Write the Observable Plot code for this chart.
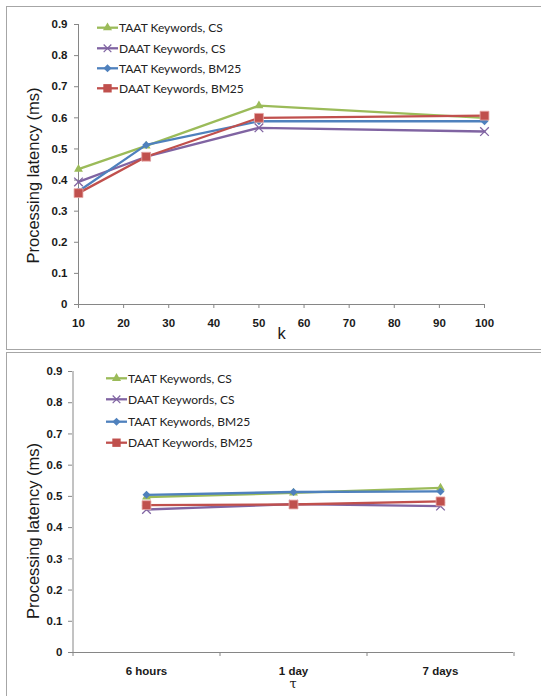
<!DOCTYPE html>
<html><head><meta charset="utf-8">
<script src="https://cdn.jsdelivr.net/npm/d3@7"></script>
<script src="https://cdn.jsdelivr.net/npm/@observablehq/plot@0.6"></script>
<style>
body{margin:0;background:#fff;width:541px;height:696px;overflow:hidden;position:relative;font-family:"Liberation Sans",Arial,sans-serif}
.panel{position:absolute;border:1px solid #a6a6a6;box-sizing:border-box}
.chart{position:absolute;left:0}
.legend{position:absolute;left:0;top:0;overflow:visible}
</style></head><body>
<div class="panel" style="left:6px;top:6px;width:600px;height:344px"></div>
<div class="panel" style="left:6px;top:352px;width:600px;height:400px"></div>
<div id="c1" class="chart" style="top:0"></div>
<div id="c2" class="chart" style="top:345px"></div>
<script>
// ---------- data ----------
const series = ["TAAT Keywords, CS", "DAAT Keywords, CS", "TAAT Keywords, BM25", "DAAT Keywords, BM25"];
const colors = ["#9BBB59", "#8064A2", "#4F81BD", "#C0504D"];
const symbols = ["triangle", "times", "diamond2", "square"];

const kValues = [10, 25, 50, 100];
const kTaatCS   = [0.435, 0.510, 0.639, 0.600];
const kDaatCS   = [0.394, 0.475, 0.568, 0.556];
const kTaatBM25 = [0.364, 0.513, 0.589, 0.589];
const kDaatBM25 = [0.358, 0.475, 0.600, 0.607];

const tauLabels = ["6 hours", "1 day", "7 days"];
const tTaatCS   = [0.498, 0.511, 0.527];
const tDaatCS   = [0.458, 0.475, 0.469];
const tTaatBM25 = [0.505, 0.514, 0.516];
const tDaatBM25 = [0.472, 0.474, 0.484];

const yTicks = [0, 0.1, 0.2, 0.3, 0.4, 0.5, 0.6, 0.7, 0.8, 0.9];
const kTicks = [10, 20, 30, 40, 50, 60, 70, 80, 90, 100];
const yTitle = "Processing latency (ms)";
const kTitle = "k";
const tauTitle = "τ";

// ---------- helpers ----------
const axisColor = "#868686";
const labelColor = "#1a1a1a";
const tickFont = {fontSize: 11.5, fontWeight: "bold"};
const yFmt = d => d === 0 ? "0" : d3.format(".1f")(d);

function rowsFor(xs, ys) {
  return ys.map((vals, s) => xs.map((x, i) => ({series: series[s], s, x, y: vals[i]}))).flat();
}
function seriesMarks(rows) {
  const marks = [];
  series.forEach((name, s) => {
    const d = rows.filter(r => r.s === s);
    marks.push(Plot.line(d, {x: "x", y: "y", stroke: colors[s], strokeWidth: 2.3}));
    if (symbols[s] === "times") {
      marks.push(Plot.dot(d, {x: "x", y: "y", symbol: "times", r: 4, stroke: colors[s], strokeWidth: 1.3, fill: "none"}));
    } else if (symbols[s] === "square") {
      marks.push(Plot.dot(d, {x: "x", y: "y", symbol: "square", r: 5, fill: colors[s], stroke: "#e8a8a6", strokeWidth: 0.8}));
    } else if (symbols[s] === "triangle") {
      marks.push(Plot.dot(d, {x: "x", y: "y", symbol: "triangle", r: 3.3, fill: colors[s], stroke: "none"}));
    } else {
      marks.push(Plot.dot(d, {x: "x", y: "y", symbol: "diamond2", r: 3.6, fill: colors[s], stroke: "none"}));
    }
  });
  return marks;
}
function legend(container, x0, ys) {
  const svg = d3.select(container).append("svg").attr("class", "legend")
    .attr("width", 541).attr("height", 360)
    .style("font-family", "Lato, 'Liberation Sans', sans-serif");
  series.forEach((name, s) => {
    const y = ys[s];
    const g = svg.append("g");
    g.append("line").attr("x1", x0).attr("x2", x0 + 21).attr("y1", y).attr("y2", y)
      .attr("stroke", colors[s]).attr("stroke-width", 2.3);
    const sym = {triangle: d3.symbolTriangle, times: d3.symbolTimes, diamond2: d3.symbolDiamond2, square: d3.symbolSquare}[symbols[s]];
    const size = symbols[s] === "square" ? 70 : symbols[s] === "triangle" ? 36 : symbols[s] === "times" ? 40 : 42;
    const p = g.append("path").attr("d", d3.symbol(sym, size)()).attr("transform", `translate(${x0 + 10.5},${y})`);
    if (symbols[s] === "times") p.attr("fill", "none").attr("stroke", colors[s]).attr("stroke-width", 1.2);
    else p.attr("fill", colors[s]);
    g.append("text").attr("x", x0 + 22).attr("y", y).attr("dy", "0.36em")
      .attr("font-size", 12).attr("fill", "#222").text(name);
  });
}

// ---------- top chart ----------
const rowsK = rowsFor(kValues, [kTaatCS, kDaatCS, kTaatBM25, kDaatBM25]);
const W = 541;
const chartTop = Plot.plot({
  width: W, height: 350,
  marginLeft: 78, marginRight: 57, marginTop: 24, marginBottom: 46,
  style: {background: "transparent", fontFamily: "'Liberation Sans', Arial, sans-serif", overflow: "visible"},
  x: {type: "linear", domain: [10, 100]},
  y: {domain: [0, 0.9]},
  marks: [
    Plot.ruleY([0], {stroke: axisColor, strokeWidth: 1}),
    Plot.ruleX([10], {stroke: axisColor, strokeWidth: 1}),
    Plot.axisY({ticks: yTicks, tickSize: 4, tickPadding: 7, tickFormat: yFmt, stroke: axisColor, fill: labelColor, label: null, ...tickFont}),
    Plot.axisX({ticks: kTicks, tickSize: 4, tickPadding: 10, tickFormat: d => String(d), stroke: axisColor, fill: labelColor, label: null, ...tickFont}),
    ...seriesMarks(rowsK),
    Plot.text([yTitle], {frameAnchor: "left", dx: -45, dy: 11, rotate: -90, fontSize: 16.5, fill: labelColor, textAnchor: "middle"}),
    Plot.text([kTitle], {frameAnchor: "bottom", dy: 34, fontSize: 16.5, fill: labelColor})
  ]
});
document.getElementById("c1").appendChild(chartTop);
legend(document.getElementById("c1"), 97, [27.7, 48.3, 68.3, 88.3]);

// ---------- bottom chart ----------
const rowsT = rowsFor(tauLabels, [tTaatCS, tDaatCS, tTaatBM25, tDaatBM25]);
const mL2 = 72, mR2 = 28;
const step2 = (W - mL2 - mR2) / tauLabels.length;
const chartBottom = Plot.plot({
  width: W, height: 351,
  marginLeft: mL2, marginRight: mR2, marginTop: 26, marginBottom: 44,
  style: {background: "transparent", fontFamily: "'Liberation Sans', Arial, sans-serif", overflow: "visible"},
  x: {type: "point", domain: tauLabels, padding: 0.5},
  y: {domain: [0, 0.9]},
  marks: [
    Plot.ruleY([0], {stroke: axisColor, strokeWidth: 1}),
    Plot.ruleX([tauLabels[0]], {stroke: axisColor, strokeWidth: 1, dx: -step2 / 2}),
    Plot.ruleX(tauLabels, {y1: 0, y2: 0, dx: -step2 / 2, insetBottom: -4, stroke: axisColor}),
    Plot.ruleX([tauLabels[tauLabels.length - 1]], {y1: 0, y2: 0, dx: step2 / 2, insetBottom: -4, stroke: axisColor}),
    Plot.axisY({ticks: yTicks, tickSize: 4, tickPadding: 6, tickFormat: yFmt, stroke: axisColor, fill: labelColor, label: null, ...tickFont}),
    Plot.axisX({tickSize: 0, tickPadding: 14, stroke: axisColor, fill: labelColor, label: null, ...tickFont}),
    ...seriesMarks(rowsT),
    Plot.text([yTitle], {frameAnchor: "left", dx: -39, dy: 19, rotate: -90, fontSize: 16.5, fill: labelColor, textAnchor: "middle"}),
    Plot.text([tauTitle], {frameAnchor: "bottom", dy: 35, fontSize: 13, fill: labelColor, fontFamily: "'DejaVu Serif', serif"})
  ]
});
document.getElementById("c2").appendChild(chartBottom);
legend(document.getElementById("c2"), 106, [33.3, 54.3, 76.7, 97.7]);
</script>
</body></html>
